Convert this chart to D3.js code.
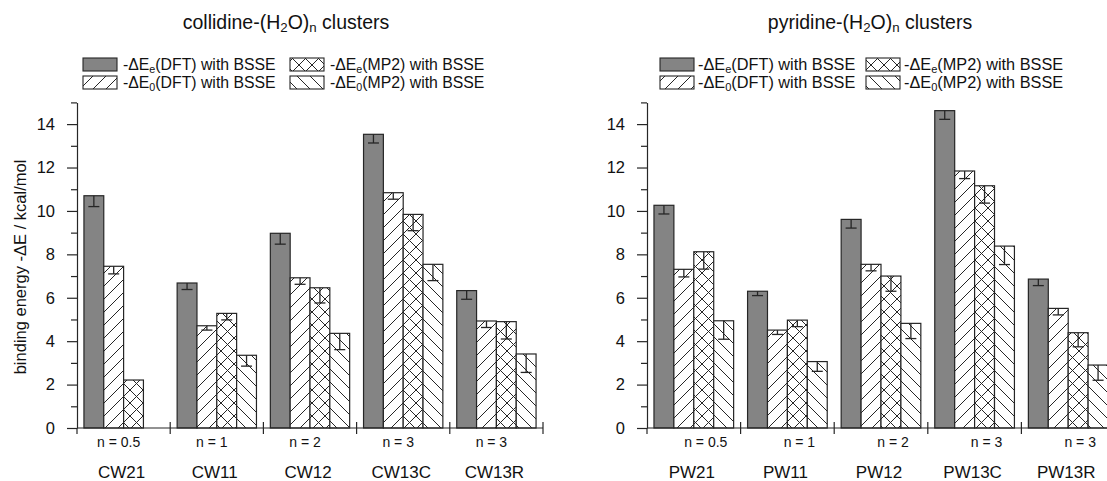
<!DOCTYPE html>
<html><head><meta charset="utf-8">
<script src="https://cdn.jsdelivr.net/npm/d3@7"></script>
<style>body{margin:0;background:#fff}svg{display:block;font-family:"Liberation Sans",Arial,sans-serif}</style>
</head><body><svg id="c" width="1107" height="481"></svg>
<script>
const seriesKeys = ["dftE","dftE0","mp2E","mp2E0"];
const nLabels = ["n = 0.5","n = 1","n = 2","n = 3","n = 3"];
const yTicks = [0,2,4,6,8,10,12,14];

const collCats = ["CW21","CW11","CW12","CW13C","CW13R"];
const collDftE  = [10.7, 6.68, 8.97, 13.53, 6.33];
const collDftE0 = [7.45, 4.71, 6.92, 10.84, 4.93];
const collMp2E  = [2.21, 5.28, 6.46, 9.84, 4.90];
const collMp2E0 = [null, 3.35, 4.36, 7.54, 3.41];
const collErrDftE  = [0.5, 0.3, 0.5, 0.4, 0.4];
const collErrDftE0 = [0.35, 0.2, 0.3, 0.3, 0.3];
const collErrMp2E  = [0, 0.3, 0.7, 0.75, 0.8];
const collErrMp2E0 = [0, 0.5, 0.75, 0.75, 0.85];

const pyrCats = ["PW21","PW11","PW12","PW13C","PW13R"];
const pyrDftE  = [10.26, 6.30, 9.61, 14.62, 6.86];
const pyrDftE0 = [7.31, 4.51, 7.54, 11.84, 5.51];
const pyrMp2E  = [8.12, 4.97, 7.0, 11.16, 4.39];
const pyrMp2E0 = [4.94, 3.06, 4.82, 8.38, 2.9];
const pyrErrDftE  = [0.4, 0.2, 0.4, 0.4, 0.3];
const pyrErrDftE0 = [0.35, 0.2, 0.3, 0.35, 0.3];
const pyrErrMp2E  = [0.8, 0.3, 0.7, 0.8, 0.65];
const pyrErrMp2E0 = [0.85, 0.45, 0.7, 0.85, 0.7];

const svg = d3.select("#c");
const defs = svg.append("defs");
const GREY = "#848484", INK = "#262626", TXT = "#111";
function hatch(id, kind){
  const s = 13;
  const p = defs.append("pattern").attr("id", id).attr("patternUnits","userSpaceOnUse")
    .attr("width", s).attr("height", s);
  p.append("rect").attr("width", s).attr("height", s).attr("fill","#fff");
  const line = (x1,y1,x2,y2)=>p.append("line").attr("x1",x1).attr("y1",y1).attr("x2",x2).attr("y2",y2)
    .attr("stroke", INK).attr("stroke-width", 1);
  if (kind==="fwd"||kind==="cross"){ line(0,s,s,0); line(-1,1,1,-1); line(s-1,s+1,s+1,s-1); }
  if (kind==="back"||kind==="cross"){ line(0,0,s,s); line(-1,s-1,1,s+1); line(s-1,-1,s+1,1); }
}
hatch("hFwd","fwd"); hatch("hCross","cross"); hatch("hBack","back");
const fills = {dftE: GREY, dftE0: "url(#hFwd)", mp2E: "url(#hCross)", mp2E0: "url(#hBack)"};

const y = d3.scaleLinear().domain([0,15]).range([428, 102.4]);

function sub(t, parts){
  parts.forEach(([txt, isSub])=>{
    const ts = t.append("tspan").text(txt);
    if (isSub) ts.attr("font-size","0.68em").attr("baseline-shift","-24%");
  });
}

function panel(o){
  const g = svg.append("g");
  const x0 = d3.scaleBand().domain(o.cats).range([o.left, o.right]).paddingInner(0).paddingOuter(0);
  const x1 = d3.scaleBand().domain(seriesKeys).range([0, x0.bandwidth()]).paddingInner(0).paddingOuter(0.35);
  const vals = {dftE:o.dftE, dftE0:o.dftE0, mp2E:o.mp2E, mp2E0:o.mp2E0};
  const errs = {dftE:o.eDftE, dftE0:o.eDftE0, mp2E:o.eMp2E, mp2E0:o.eMp2E0};

  // title
  const tt = g.append("text").attr("x", o.titleX).attr("y", 29).attr("text-anchor","middle")
    .attr("font-size", 19.5).attr("fill",TXT);
  sub(tt, [[o.name+"-(H",false],["2",true],["O)",false],["n",true],[" clusters",false]]);

  // legend
  const legendItems = [
    ["dftE", "e", "DFT", 0, 0], ["mp2E", "e", "MP2", 1, 0],
    ["dftE0","0", "DFT", 0, 1], ["mp2E0","0", "MP2", 1, 1]
  ];
  legendItems.forEach(([k, s, m, col, row])=>{
    const lx = o.legX[col], ly = 58 + row*18;
    g.append("rect").attr("x", lx).attr("y", ly).attr("width", 34).attr("height", 13)
      .attr("fill", fills[k]).attr("stroke", INK).attr("stroke-width", 1.1);
    const t = g.append("text").attr("x", lx + o.legGap).attr("y", ly + 12).attr("font-size", o.legFont).attr("fill",TXT);
    sub(t, [["-\u0394E",false],[s,true],["("+m+") with BSSE",false]]);
  });

  // bars
  o.cats.forEach((c,i)=>{
    seriesKeys.forEach(k=>{
      const v = vals[k][i];
      if (v==null) return;
      const bx = x0(c) + x1(k), bw = x1.bandwidth();
      g.append("rect").attr("x", bx).attr("y", y(v)).attr("width", bw).attr("height", y(0)-y(v))
        .attr("fill", fills[k]).attr("stroke", INK).attr("stroke-width", 1.2);
      const e = errs[k][i];
      if (e>0){
        const cx = bx + bw/2;
        g.append("line").attr("x1",cx).attr("x2",cx).attr("y1",y(v)).attr("y2",y(v-e)).attr("stroke",INK).attr("stroke-width",1.3);
        g.append("line").attr("x1",cx-5.5).attr("x2",cx+5.5).attr("y1",y(v-e)).attr("y2",y(v-e)).attr("stroke",INK).attr("stroke-width",1.3);
      }
    });
  });

  // y axis
  const ya = g.append("g").attr("transform",`translate(${o.left},0)`)
    .call(d3.axisLeft(y).tickValues(yTicks).tickSize(10).tickPadding(12).tickSizeOuter(0));
  ya.select(".domain").attr("stroke", INK).attr("stroke-width",1.2);
  ya.selectAll(".tick line").attr("stroke", INK).attr("stroke-width",1.2);
  ya.selectAll(".tick text").attr("font-size", 16.5).attr("fill",TXT).attr("font-family","Liberation Sans, Arial, sans-serif");
  const minor = g.append("g").attr("transform",`translate(${o.left},0)`)
    .call(d3.axisLeft(y).tickValues([1,3,5,7,9,11,13,15]).tickSize(6).tickFormat("").tickSizeOuter(0));
  minor.select(".domain").remove();
  minor.selectAll(".tick line").attr("stroke", INK).attr("stroke-width",1.2);

  // x axis
  g.append("line").attr("x1", o.left).attr("x2", o.right).attr("y1", y(0)).attr("y2", y(0)).attr("stroke", INK).attr("stroke-width",1.2);
  const bounds = o.cats.map(c=>x0(c)).concat([o.right]);
  bounds.forEach((bx,i)=>{
    g.append("line").attr("x1",bx).attr("x2",bx).attr("y1", i===0 ? y(0) : y(0)-6).attr("y2", y(0)+6).attr("stroke", INK).attr("stroke-width",1.2);
  });
  o.cats.forEach((c,i)=>{
    const cx = x0(c) + x0.bandwidth()/2;
    g.append("text").attr("x", cx + o.nShift).attr("y", 447).attr("text-anchor","middle")
      .attr("font-size", 14).attr("fill",TXT).text(nLabels[i]);
    g.append("text").attr("x", cx - 2).attr("y", 478).attr("text-anchor","middle")
      .attr("font-size", 17).attr("fill",TXT).text(c);
  });
}

panel({name:"collidine", cats: collCats, left: 77, right: 543, titleX: 286,
  legX:[83, 290], legGap: 40, legFont: 15.8,
  dftE: collDftE, dftE0: collDftE0, mp2E: collMp2E, mp2E0: collMp2E0,
  eDftE: collErrDftE, eDftE0: collErrDftE0, eMp2E: collErrMp2E, eMp2E0: collErrMp2E0, nShift: -5});
panel({name:"pyridine", cats: pyrCats, left: 647, right: 1115, titleX: 870,
  legX:[660, 866], legGap: 38, legFont: 16.3,
  dftE: pyrDftE, dftE0: pyrDftE0, mp2E: pyrMp2E, mp2E0: pyrMp2E0,
  eDftE: pyrErrDftE, eDftE0: pyrErrDftE0, eMp2E: pyrErrMp2E, eMp2E0: pyrErrMp2E0, nShift: 12});

svg.append("text").attr("transform","translate(26,267) rotate(-90)").attr("text-anchor","middle")
  .attr("font-size", 16.5).attr("fill",TXT).text("binding energy -\u0394E / kcal/mol");
</script></body></html>
